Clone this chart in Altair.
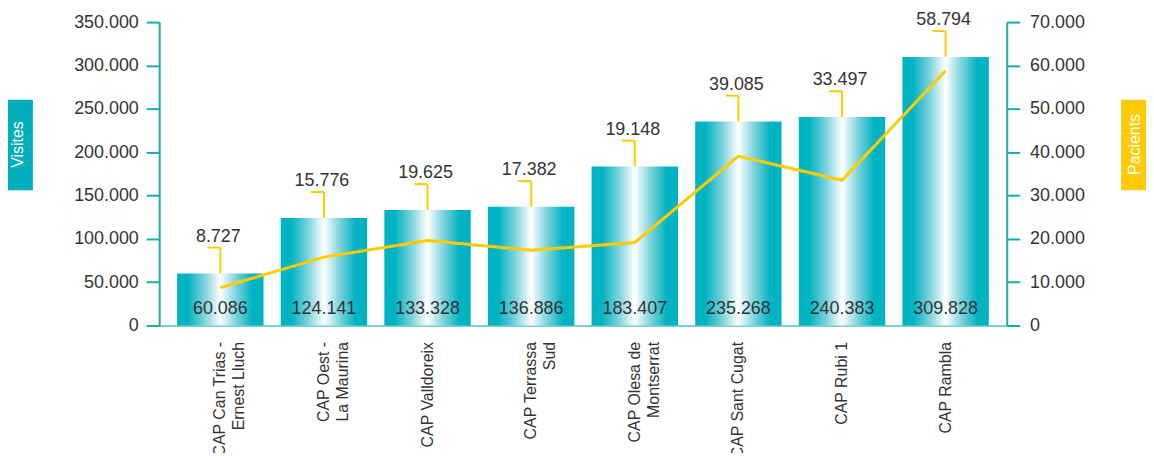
import altair as alt
import pandas as pd

centres = ["CAP Can Trias -|Ernest Lluch", "CAP Oest -|La Maurina", "CAP Valldoreix",
           "CAP Terrassa|Sud", "CAP Olesa de|Montserrat", "CAP Sant Cugat",
           "CAP Rubi 1", "CAP Rambla"]
visites = [60086, 124141, 133328, 136886, 183407, 235268, 240383, 309828]
pacients = [8727, 15776, 19625, 17382, 19148, 39085, 33497, 58794]

df = pd.DataFrame({"centre": centres, "visites": visites, "pacients": pacients})

TEAL = "#00B3C2"
AXIS = "#1AADA5"
YELLOW = "#FFCC00"
TXT = "#333333"
FONT = "Liberation Sans"

W, H = 852, 305

grad = alt.LinearGradient(
    gradient="linear", x1=0, x2=1, y1=0, y2=0,
    stops=[
        alt.GradientStop(color=TEAL, offset=0),
        alt.GradientStop(color=TEAL, offset=0.12),
        alt.GradientStop(color="#7FD3DC", offset=0.32),
        alt.GradientStop(color="#FFFFFF", offset=0.5),
        alt.GradientStop(color="#7FD3DC", offset=0.68),
        alt.GradientStop(color=TEAL, offset=0.87),
        alt.GradientStop(color=TEAL, offset=1),
    ],
)

xenc = alt.X("centre:N", sort=centres,
             scale=alt.Scale(paddingInner=0.166, paddingOuter=0.173),
             axis=alt.Axis(title=None, labelAngle=-90, labelExpr="split(datum.label, '|')",
                           labelFont=FONT, labelFontSize=16, labelColor=TXT,
                           labelLineHeight=19, labelPadding=16, ticks=False,
                           domainColor="#7CD0CC", domainWidth=2))

yscale = alt.Scale(domain=[0, 350000], nice=False)
yleft = alt.Y("visites:Q", scale=yscale,
              axis=alt.Axis(title=None, values=list(range(0, 350001, 50000)),
                            labelExpr="replace(format(datum.value, ','), ',', '.')",
                            labelFont=FONT, labelFontSize=18, labelColor=TXT,
                            domainColor=AXIS, domainWidth=2, tickColor=AXIS,
                            tickWidth=2, tickSize=13, labelPadding=8, grid=False))

base = alt.Chart(df)

bars = base.mark_bar(color=grad).encode(x=xenc, y=yleft)

line = base.mark_line(color=YELLOW, strokeWidth=3).encode(
    x=alt.X("centre:N", sort=centres),
    y=alt.Y("pacients:Q", scale=alt.Scale(domain=[0, 70000], nice=False),
            axis=alt.Axis(title=None, orient="right", values=list(range(0, 70001, 10000)),
                          labelExpr="replace(format(datum.value, ','), ',', '.')",
                          labelFont=FONT, labelFontSize=18, labelColor=TXT,
                          domainColor=AXIS, domainWidth=2, tickColor=AXIS,
                          tickWidth=2, tickSize=13, labelPadding=10, grid=False)),
)

vlead = base.mark_rule(color=YELLOW, strokeWidth=2, y2Offset=-26).encode(
    x=alt.X("centre:N", sort=centres), y=alt.Y("visites:Q", scale=yscale), y2="visites:Q")

hlead = base.mark_tick(color=YELLOW, thickness=2, size=13, xOffset=-6.5, yOffset=-26,
                       opacity=1).encode(
    x=alt.X("centre:N", sort=centres), y=alt.Y("visites:Q", scale=yscale))

toplab = base.transform_calculate(
    lab="replace(format(datum.pacients, ','), ',', '.')"
).mark_text(font=FONT, fontSize=18, color=TXT, baseline="middle", yOffset=-37, dx=-2).encode(
    x=alt.X("centre:N", sort=centres), y=alt.Y("visites:Q", scale=yscale), text="lab:N")

botlab = base.transform_calculate(
    lab="replace(format(datum.visites, ','), ',', '.')"
).mark_text(font=FONT, fontSize=18, color=TXT, baseline="middle", yOffset=-17).encode(
    x=alt.X("centre:N", sort=centres), y=alt.datum(0, scale=yscale), text="lab:N")

box_df = pd.DataFrame({"t": ["Visites"]})
vbox = alt.Chart(box_df).mark_rect(color="#00AEBD").encode(
    x=alt.value(-157), x2=alt.value(-127), y=alt.value(78), y2=alt.value(169))
vtxt = alt.Chart(box_df).mark_text(angle=270, color="white", font=FONT, fontSize=16,
                                   baseline="middle", align="center").encode(
    x=alt.value(-142), y=alt.value(123), text="t:N")

pbox_df = pd.DataFrame({"t": ["Pacients"]})
pbox = alt.Chart(pbox_df).mark_rect(color="#FFCB05").encode(
    x=alt.value(967), x2=alt.value(1000), y=alt.value(78), y2=alt.value(169))
ptxt = alt.Chart(pbox_df).mark_text(angle=270, color="white", font=FONT, fontSize=16,
                                    baseline="middle", align="center").encode(
    x=alt.value(981), y=alt.value(123), text="t:N")

left = alt.layer(bars, vlead, hlead, toplab, botlab, vbox, vtxt)
chart = alt.layer(left, line, pbox, ptxt).resolve_scale(y="independent").properties(
    width=W, height=H,
    autosize=alt.AutoSizeParams(type="none"),
    padding={"left": 152, "top": 13, "right": 140, "bottom": 127},
).configure_view(stroke=None)

chart.save("out.html", embed_options={"renderer": "svg", "actions": False})
